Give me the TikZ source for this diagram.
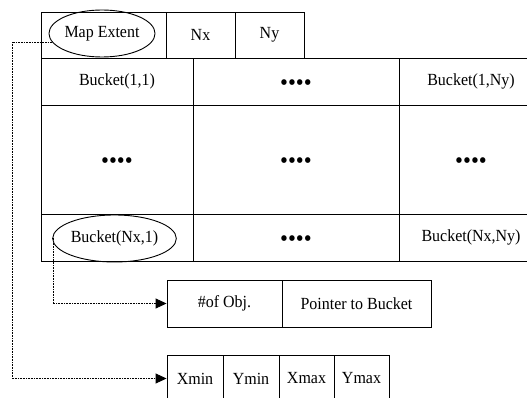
\documentclass[tikz,border=0pt]{standalone}
\usepackage{fontspec}
\setmainfont{Liberation Serif}[FakeStretch=0.94]
\usetikzlibrary{shapes.geometric,arrows.meta}
\tikzset{
  cell/.style={draw, line width=0.9pt, rectangle, inner sep=0pt, font=\fontsize{17}{20}\selectfont},
  oval/.style={draw, line width=0.9pt, ellipse, inner sep=0pt, font=\fontsize{17}{20}\selectfont},
  dotstext/.style={font=\fontsize{24}{24}\selectfont, yshift=-4pt},
  conn/.style={line width=0.9pt, dash pattern=on 1pt off 0.6pt, -{Triangle[length=11pt,width=10pt]}}
}
\begin{document}
\begin{tikzpicture}[x=1pt,y=-1pt]
\useasboundingbox (0,0) rectangle (527,398);
\clip (0,0) rectangle (527,398);
% top row
\node[cell, minimum width=125pt, minimum height=46pt] (me) at (103.5,35) {};
\node[cell, minimum width=69pt, minimum height=46pt] (nx) at (200.5,35) {Nx};
\node[cell, minimum width=69pt, minimum height=46pt] (ny) at (269.5,35) {Ny};
% main grid
\node[cell, minimum width=152pt, minimum height=47pt] (b11) at (117,81.5) {Bucket(1,1)};
\node[cell, minimum width=206pt, minimum height=47pt] (d12) at (296,81.5) {};
\node[cell, minimum width=144pt, minimum height=47pt] (b1n) at (471,81.5) {Bucket(1,Ny)};
\node[cell, minimum width=152pt, minimum height=109pt] (m1) at (117,159.5) {};
\node[cell, minimum width=206pt, minimum height=109pt] (m2) at (296,159.5) {};
\node[cell, minimum width=144pt, minimum height=109pt] (m3) at (471,159.5) {};
\node[cell, minimum width=152pt, minimum height=47pt] (bn1c) at (117,237.5) {};
\node[cell, minimum width=206pt, minimum height=47pt] (dn2) at (296,237.5) {};
\node[cell, minimum width=144pt, minimum height=47pt] (bnn) at (471,237.5) {Bucket(Nx,Ny)};
% dots
\node[dotstext] (t1) at (d12) {••••};
\node[dotstext] (t2) at (m1) {••••};
\node[dotstext] (t3) at (m2) {••••};
\node[dotstext] (t4) at (m3) {••••};
\node[dotstext] (t5) at (dn2) {••••};
% ellipses
\node[oval, minimum width=98pt, minimum height=47pt] (mapext) at (102,33.5) {Map Extent};
\node[oval, minimum width=95pt, minimum height=47pt] (bn1) at (114.5,238.5) {Bucket(Nx,1)};
% bucket record
\node[cell, minimum width=115pt, minimum height=47pt] (nobj) at (224.5,303.5) {\#of Obj.};
\node[cell, minimum width=149pt, minimum height=47pt] (ptr) at (356.5,303.5) {Pointer to Bucket};
% extent record
\node[cell, minimum width=56pt, minimum height=47pt] (xmin) at (195,378.5) {Xmin};
\node[cell, minimum width=56pt, minimum height=47pt] (ymin) at (251,378.5) {Ymin};
\node[cell, minimum width=55pt, minimum height=47pt] (xmax) at (306.5,378.5) {Xmax};
\node[cell, minimum width=55pt, minimum height=47pt] (ymax) at (361.5,378.5) {Ymax};
% connectors
\coordinate (k1) at (12,42);
\coordinate (k2) at (53,238);
\draw[conn] (mapext.190) -- (mapext.190 -| k1) |- (xmin.west);
\draw[conn] (bn1.west) -- (bn1.west -| k2) |- (nobj.west);
\end{tikzpicture}
\end{document}
